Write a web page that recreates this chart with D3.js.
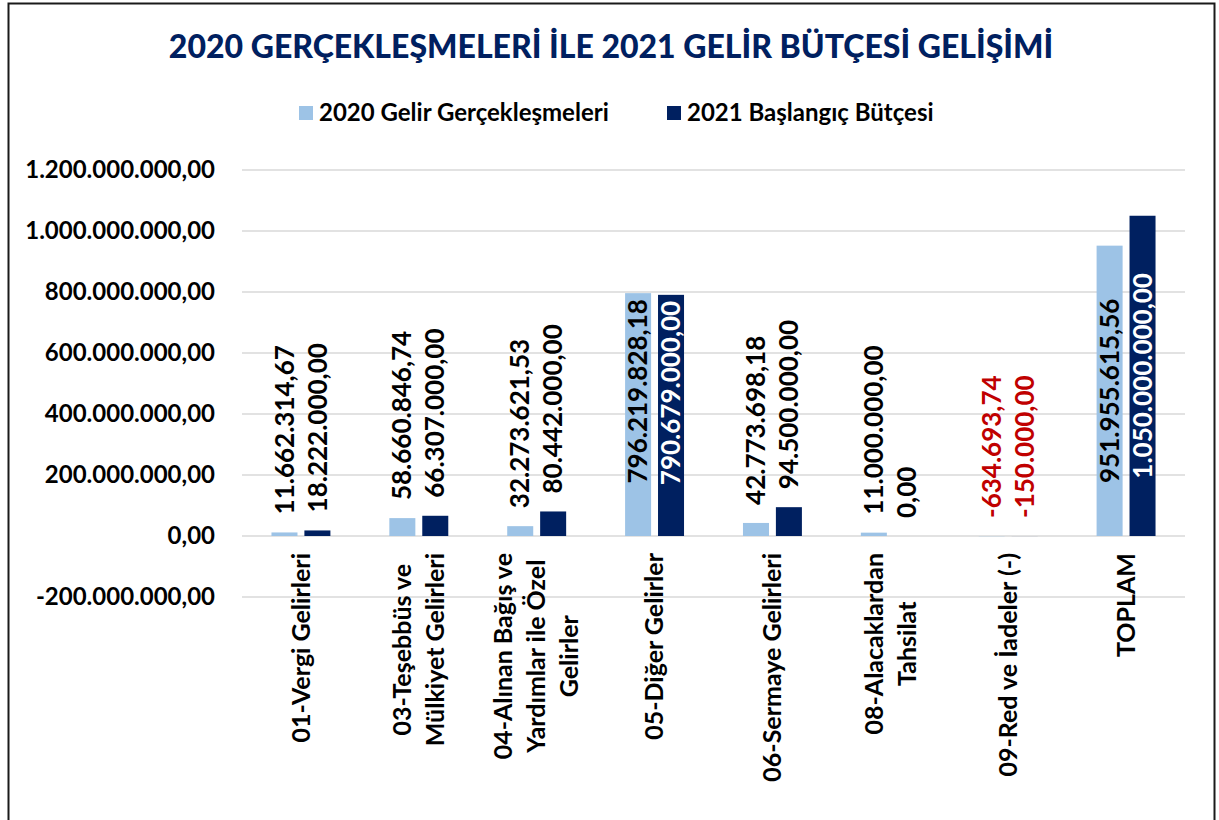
<!DOCTYPE html>
<html>
<head>
<meta charset="utf-8">
<script src="https://cdn.jsdelivr.net/npm/d3@7"></script>
<style>
  body { margin: 0; background: #fff; }
  svg { font-family: Lato, "Open Sans", sans-serif; }
  .grid line { stroke: #d9d9d9; stroke-width: 1.5; }
  .ytick { font-size: 24px; font-weight: bold; fill: #000; }
  .cat { font-size: 25px; font-weight: bold; fill: #000; }
  .val { font-size: 26px; font-weight: bold; }
</style>
</head>
<body>
<svg width="1219" height="820"></svg>
<script>
const categories = [
  "01-Vergi Gelirleri",
  "03-Teşebbüs ve\nMülkiyet Gelirleri",
  "04-Alınan Bağış ve\nYardımlar ile Özel\nGelirler",
  "05-Diğer Gelirler",
  "06-Sermaye Gelirleri",
  "08-Alacaklardan\nTahsilat",
  "09-Red ve İadeler (-)",
  "TOPLAM"
];
const seriesNames = ["2020 Gelir Gerçekleşmeleri", "2021 Başlangıç Bütçesi"];
const values2020 = [11662314.67, 58660846.74, 32273621.53, 796219828.18, 42773698.18, 11000000.0, -634693.74, 951955615.56];
const values2021 = [18222000.0, 66307000.0, 80442000.0, 790679000.0, 94500000.0, 0.0, -150000.0, 1050000000.0];
const yTicks = [-200000000, 0, 200000000, 400000000, 600000000, 800000000, 1000000000, 1200000000];
const title = "2020 GERÇEKLEŞMELERİ İLE 2021 GELİR BÜTÇESİ GELİŞİMİ";

const colors = ["#9dc3e6", "#002060"];
const trLocale = d3.formatLocale({ decimal: ",", thousands: ".", grouping: [3], currency: ["", ""], minus: "-" });
const fmt = trLocale.format(",.2f");

const svg = d3.select("svg");

// outer frame
svg.append("rect")
  .attr("x", 8.5).attr("y", 3.5)
  .attr("width", 1206).attr("height", 830)
  .attr("fill", "none").attr("stroke", "#1a1a1a").attr("stroke-width", 2);

svg.append("text")
  .attr("x", 611).attr("y", 58)
  .attr("text-anchor", "middle")
  .style("font-size", "32px").style("font-weight", "900").style("fill", "#002060")
  .text(title);

// legend
const legendX = [299, 667];
const legend = svg.selectAll("g.legend")
  .data(seriesNames)
  .enter()
  .append("g")
  .attr("class", "legend")
  .attr("transform", (d, i) => `translate(${legendX[i]}, 106)`);
legend.append("rect").attr("width", 14).attr("height", 14).attr("fill", (d, i) => colors[i]);
legend.append("text")
  .attr("x", 20).attr("y", 15)
  .style("font-size", "24px").style("font-weight", "bold")
  .text(d => d);

const x0 = d3.scaleBand().domain(categories).range([242, 1185]);
const x1 = d3.scaleBand().domain([0, 1])
  .range([x0.bandwidth() / 4, x0.bandwidth() * 3 / 4])
  .paddingInner(0.21);
const y = d3.scaleLinear().domain([-200000000, 1200000000]).range([597, 170]);

// grid + y labels
const grid = svg.append("g").attr("class", "grid");
grid.selectAll("line")
  .data(yTicks)
  .enter()
  .append("line")
  .attr("x1", 242).attr("x2", 1185)
  .attr("y1", d => y(d)).attr("y2", d => y(d));

svg.selectAll("text.ytick")
  .data(yTicks)
  .enter()
  .append("text")
  .attr("class", "ytick")
  .attr("x", 215)
  .attr("y", d => y(d))
  .attr("dy", "0.35em")
  .attr("text-anchor", "end")
  .text(d => fmt(d));

// bars
const rows = categories.map((c, i) => ({ cat: c, vals: [values2020[i], values2021[i]] }));
const groups = svg.selectAll("g.cat-group")
  .data(rows)
  .enter()
  .append("g")
  .attr("class", "cat-group")
  .attr("transform", d => `translate(${x0(d.cat)}, 0)`);

const items = groups.selectAll("g.item")
  .data(d => d.vals.map((v, s) => ({ cat: d.cat, v: v, s: s })))
  .enter()
  .append("g")
  .attr("class", "item");

items.append("rect")
  .attr("x", d => x1(d.s))
  .attr("width", x1.bandwidth())
  .attr("y", d => y(Math.max(d.v, 0)))
  .attr("height", d => Math.abs(y(d.v) - y(0)))
  .attr("fill", d => colors[d.s]);

items.append("text")
  .attr("class", "val")
  .attr("transform", d => {
    const cx = x1(d.s) + x1.bandwidth() / 2;
    let ty;
    if (d.cat === "TOPLAM") ty = (y(d.v) + y(0)) / 2;
    else if (d.v > 500000000) ty = y(d.v) + 6;
    else ty = y(Math.max(d.v, 0)) - 18;
    return `translate(${cx}, ${ty}) rotate(-90)`;
  })
  .attr("dy", "0.35em")
  .attr("text-anchor", d => d.cat === "TOPLAM" ? "middle" : d.v > 500000000 ? "end" : "start")
  .style("fill", d => {
    if (d.v < 0) return "#c00000";
    if (d.v > 500000000) return d.s === 1 ? "#fff" : "#000";
    return "#000";
  })
  .text(d => fmt(d.v));

// category labels, rotated, lines centered against each other
const lineGap = 33;
const catLabels = svg.selectAll("g.cat-label")
  .data(categories)
  .enter()
  .append("g")
  .attr("class", "cat-label");

catLabels.each(function(c) {
  const g = d3.select(this);
  const lines = c.split("\n");
  const texts = lines.map((l, i) => g.append("text")
    .attr("class", "cat")
    .attr("text-anchor", "middle")
    .attr("y", (i - (lines.length - 1) / 2) * lineGap)
    .attr("dy", "0.35em")
    .text(l));
  const maxLen = d3.max(texts, t => t.node().getComputedTextLength());
  g.attr("transform", `translate(${x0(c) + x0.bandwidth() / 2}, ${553 + maxLen / 2}) rotate(-90)`);
});
</script>
</body>
</html>
